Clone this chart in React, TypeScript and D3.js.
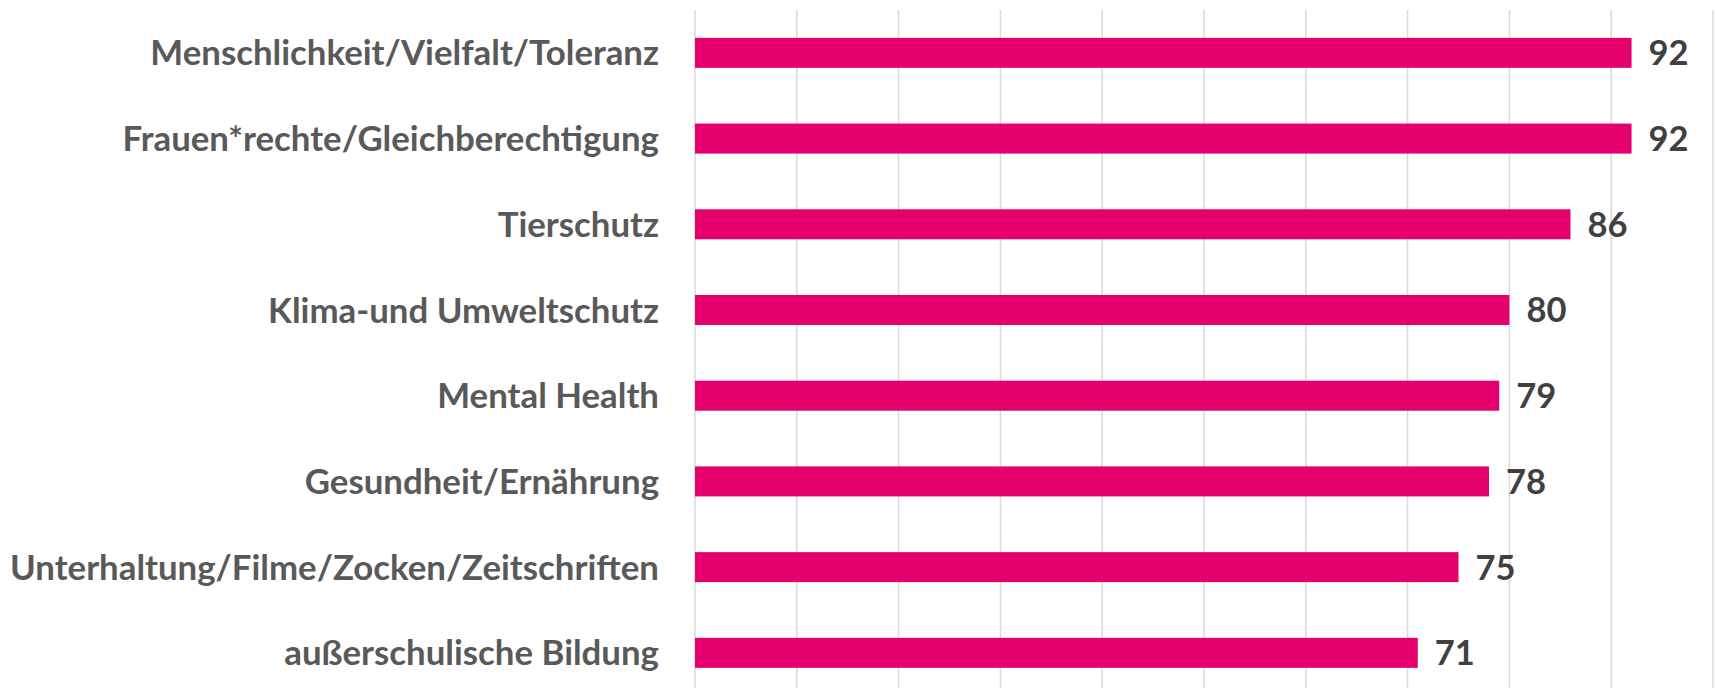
import React from "react";
import * as d3 from "d3";

const categories = [
  "Menschlichkeit/Vielfalt/Toleranz",
  "Frauen*rechte/Gleichberechtigung",
  "Tierschutz",
  "Klima-und Umweltschutz",
  "Mental Health",
  "Gesundheit/Ernährung",
  "Unterhaltung/Filme/Zocken/Zeitschriften",
  "außerschulische Bildung",
];
const values = [92, 92, 86, 80, 79, 78, 75, 71];
const xDomain = [0, 100];
const xTicks = [0, 10, 20, 30, 40, 50, 60, 70, 80, 90, 100];

const W = 1715;
const H = 688;

export default function App() {
  const x = d3.scaleLinear().domain(xDomain).range([695, 1713]);
  const y = d3
    .scaleBand<string>()
    .domain(categories)
    .range([10, 695.7])
    .paddingInner(0.65)
    .paddingOuter(0.325);
  const font = "Lato, 'Open Sans', sans-serif";
  return (
    <div style={{ position: "absolute", left: 0, top: 0 }}>
      <svg width={W} height={H} style={{ display: "block" }}>
        <rect width={W} height={H} fill="#ffffff" />
        {xTicks.map((t) => (
          <line
            key={t}
            x1={x(t)}
            x2={x(t)}
            y1={10}
            y2={H}
            stroke="#d9d9d9"
            strokeWidth={1.5}
          />
        ))}
        {categories.map((c, i) => (
          <rect
            key={c}
            x={x(0)}
            y={y(c)}
            width={x(values[i]) - x(0)}
            height={y.bandwidth()}
            fill="#e6006e"
          />
        ))}
        {categories.map((c) => (
          <text
            key={"l" + c}
            x={659}
            y={(y(c) as number) + y.bandwidth() / 2}
            dy="0.36em"
            textAnchor="end"
            fontFamily={font}
            fontWeight={700}
            fontSize={34.8}
            fill="#595959"
          >
            {c}
          </text>
        ))}
        {categories.map((c, i) => (
          <text
            key={"v" + c}
            x={x(values[i]) + 17}
            y={(y(c) as number) + y.bandwidth() / 2}
            dy="0.36em"
            textAnchor="start"
            fontFamily={font}
            fontWeight={700}
            fontSize={34.5}
            fill="#404040"
          >
            {values[i]}
          </text>
        ))}
      </svg>
    </div>
  );
}
